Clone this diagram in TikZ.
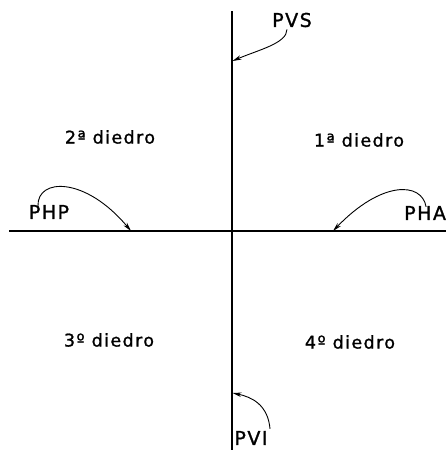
\documentclass[tikz,border=0pt]{standalone}
\usepackage{fontspec}
\setmainfont{DejaVu Sans}[LetterSpace=8,FakeBold=1.2]
\usetikzlibrary{arrows.meta}
\begin{document}
\begin{tikzpicture}[x=1pt,y=-1pt,
  axis/.style={line width=1.4pt},
  pointer/.style={line width=0.9pt,-{Stealth[length=9pt,width=4.5pt]}},
  plane/.style={font=\fontsize{19}{21}\selectfont,inner sep=0pt},
  dlabel/.style={font=\fontsize{17.5}{20}\selectfont,inner sep=0pt}]
\useasboundingbox (0,0) rectangle (446,450);
% axes
\coordinate (vtop) at (232,11);
\coordinate (vbot) at (232,452);
\coordinate (hl) at (9,231);
\coordinate (hr) at (448,231);
\draw[axis] (vtop) -- (vbot);
\draw[axis] (hl) -- (hr);
% arrow targets
\coordinate (tvs) at (232.5,61);
\coordinate (thp) at (131,231);
\coordinate (tha) at (333,231);
\coordinate (tvi) at (232.5,393);
% plane labels
\node[plane] (pvs) at (292,20) {PVS};
\node[plane] (php) at (49,212) {PHP};
\node[plane,anchor=west] (pha) at (404,213) {PHA};
\node[plane] (pvi) at (251,438) {PVI};
% dihedra labels
\node[dlabel] (d2) at (110,137) {2ª diedro};
\node[dlabel] (d1) at (359,140) {1ª diedro};
\node[dlabel] (d3) at (109,340) {3º diedro};
\node[dlabel] (d4) at (350,342) {4º diedro};
% pointers
\draw[pointer] ([xshift=-5pt,yshift=-2pt]pvs.south) .. controls +(0,14) and (258,50) .. (tvs);
\draw[pointer] ([xshift=-11pt,yshift=-1pt]php.north) .. controls (37,178) and (85,176) .. (thp);
\draw[pointer] ([xshift=1pt,yshift=-1pt]pha.north) .. controls (422,182) and (382,180) .. (tha);
\draw[pointer] ([xshift=19pt,yshift=2pt]pvi.north) .. controls (268,405) and (252,397) .. (tvi);
\end{tikzpicture}
\end{document}
